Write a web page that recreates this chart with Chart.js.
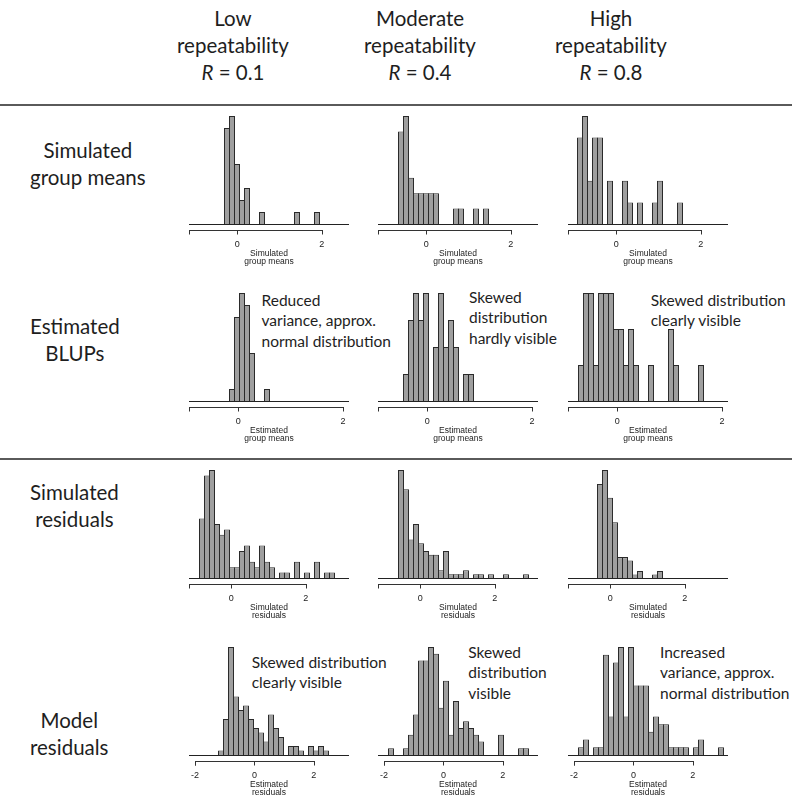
<!DOCTYPE html>
<html>
<head>
<meta charset="utf-8">
<script src="https://cdn.jsdelivr.net/npm/chart.js@4.4.1/dist/chart.umd.min.js"></script>
<style>
  html, body { margin: 0; padding: 0; background: #fff; overflow: hidden; }
  #page { position: relative; width: 792px; height: 800px; }
  .txt { position: absolute; font-family: Lato, "Noto Sans", sans-serif; color: #1e1e1e; white-space: nowrap; }
  .head { font-size: 20.5px; line-height: 27px; text-align: center; width: 200px; }
  .rowlab { font-size: 20.5px; line-height: 27px; text-align: center; display: inline-block; }
  .note { font-size: 15.5px; line-height: 20.5px; }
  .rule { position: absolute; left: 0; width: 792px; height: 2px; background: #5a5a5a; }
  canvas { position: absolute; }
</style>
</head>
<body>
<div id="page"></div>
<script>
// Column and row labels
const levels = ["Low", "Moderate", "High"];
const repeatability = [0.1, 0.4, 0.8];
const rowLabels = [["Simulated", "group means"], ["Estimated", "BLUPs"], ["Simulated", "residuals"], ["Model", "residuals"]];
const axisTitles = [["Simulated", "group means"], ["Estimated", "group means"], ["Simulated", "residuals"], ["Estimated", "residuals"]];

// x axis ranges and ticks per row
const rowXMin = [-1.143, -0.942, -1.135, -2.203];
const rowXMax = [2.643, 2.115, 3.162, 3.186];
const rowTicks = [[0, 2], [0, 2], [0, 2], [-2, 0, 2]];
const axisFrom = [-1.143, -0.942, -1.135, -2];

// histogram bins: first break per panel and bin width per row
const binStart = [[-0.303, -0.658, -0.918], [-0.168, -0.455, -0.741], [-0.853, -0.5845, -0.343], [-1.209, -1.849, -1.849]];
const binWidth = [0.11831, 0.09553, 0.13428, 0.16841];

// counts per bin
const simMeansLow = [8, 9, 5, 2, 3, 0, 0, 1, 0, 0, 0, 0, 0, 0, 1, 0, 0, 0, 1];
const simMeansMod = [6, 7, 3, 2, 2, 2, 2, 2, 0, 0, 0, 1, 1, 0, 0, 1, 0, 1];
const simMeansHigh = [4, 5, 2, 4, 4, 0, 2, 0, 0, 2, 1, 0, 1, 0, 0, 1, 2, 0, 0, 0, 1];
const blupLow = [1, 7, 9, 8, 4, 0, 0, 1];
const blupMod = [1, 3, 4, 3, 4, 0, 2, 4, 2, 3, 2, 0, 1, 1];
const blupHigh = [1, 3, 3, 1, 3, 3, 3, 2, 2, 1, 2, 1, 0, 0, 1, 0, 0, 0, 2, 1, 0, 0, 0, 0, 1];
const simResLow = [11, 19, 20, 10, 8, 9, 2, 2, 5, 6, 3, 2, 6, 3, 2, 0, 1, 1, 0, 3, 0, 1, 0, 3, 0, 1, 1];
const simResMod = [28, 23, 10, 14, 9, 7, 6, 6, 2, 7, 1, 1, 1, 2, 0, 1, 1, 0, 1, 0, 0, 1, 0, 0, 0, 1];
const simResHigh = [27, 31, 23, 16, 6, 6, 5, 1, 2, 0, 0, 1, 2];
const modelResLow = [1, 8, 24, 13, 10, 11, 8, 6, 5, 3, 9, 6, 4, 0, 2, 2, 1, 0, 2, 1, 2, 1];
const modelResMod = [1, 0, 0, 1, 3, 6, 14, 14, 16, 15, 7, 11, 3, 8, 4, 5, 4, 3, 2, 0, 0, 0, 3, 0, 0, 0, 1, 1];
const modelResHigh = [1, 2, 0, 1, 1, 13, 5, 12, 14, 5, 14, 9, 9, 9, 3, 5, 4, 4, 1, 1, 1, 1, 0, 1, 2, 0, 0, 0, 1];

const counts = [
  [simMeansLow, simMeansMod, simMeansHigh],
  [blupLow, blupMod, blupHigh],
  [simResLow, simResMod, simResHigh],
  [modelResLow, modelResMod, modelResHigh]
];

// annotations [row, col, lines]
const notes = [
  [1, 0, ["Reduced", "variance, approx.", "normal distribution"]],
  [1, 1, ["Skewed", "distribution", "hardly visible"]],
  [1, 2, ["Skewed distribution", "clearly visible"]],
  [3, 0, ["Skewed distribution", "clearly visible"]],
  [3, 1, ["Skewed", "distribution", "visible"]],
  [3, 2, ["Increased", "variance, approx.", "normal distribution"]]
];

// Layout
const page = document.getElementById("page");
const colLeft = [189, 378, 568];
const plotW = 160, plotH = 108, axisH = 42;
const rowTop = [116, 293, 470, 647];
const headX = [233, 420, 611];
const headY = [18, 45, 72];
const rowLabY = [150, 326, 492, 720];
const notePos = [[261.5, 300], [469, 297], [650.7, 300], [251.7, 662], [468.3, 652], [660, 652]];

function addText(cls, html, left, centerY, lh) {
  const d = document.createElement("div");
  d.className = "txt " + cls;
  d.innerHTML = html;
  d.style.left = left + "px";
  d.style.top = (centerY - lh / 2) + "px";
  page.appendChild(d);
}

// Headers
levels.forEach((lv, c) => {
  const lines = [lv, "repeatability", "<i>R</i> = " + repeatability[c]];
  lines.forEach((t, i) => addText("head", t, headX[c] - 100, headY[i], 27));
});

// Row labels (centred block)
rowLabels.forEach((lines, r) => {
  addText("rowlab", lines.join("<br>"), 30, rowLabY[r], 27);
});

// Rules
[104, 458].forEach(y => {
  const d = document.createElement("div");
  d.className = "rule";
  d.style.top = y + "px";
  page.appendChild(d);
});

// Notes
notes.forEach((n, i) => {
  n[2].forEach((t, j) => addText("note", t, notePos[i][0], notePos[i][1] + j * 20.5, 20.5));
});

// R style axis drawn below the baseline
const rAxis = {
  id: "rAxis",
  afterDraw(chart) {
    const o = chart.options.plugins.rAxis;
    const xs = chart.scales.x, ctx = chart.ctx;
    const y = Math.round(chart.chartArea.bottom) + 6.5;
    ctx.save();
    ctx.strokeStyle = "#333";
    ctx.lineWidth = 1;
    ctx.beginPath();
    ctx.moveTo(Math.round(xs.getPixelForValue(o.from)), y);
    ctx.lineTo(Math.round(xs.getPixelForValue(o.to)) + 1, y);
    [o.from, ...o.ticks].forEach(v => {
      const px = Math.round(xs.getPixelForValue(v)) + 0.5;
      ctx.moveTo(px, y);
      ctx.lineTo(px, y + 4);
    });
    ctx.stroke();
    ctx.restore();
  }
};

// Histograms
counts.forEach((rowCounts, r) => {
  rowCounts.forEach((vals, c) => {
    const cv = document.createElement("canvas");
    cv.width = plotW;
    cv.height = plotH + axisH;
    cv.style.left = colLeft[c] + "px";
    cv.style.top = rowTop[r] + "px";
    page.appendChild(cv);

    const w = binWidth[r];
    const pts = vals.map((v, k) => ({ x: binStart[r][c] + (k + 0.5) * w, y: v }));
    const binPx = w * plotW / (rowXMax[r] - rowXMin[r]);
    const ticks = rowTicks[r];

    new Chart(cv, {
      type: "bar",
      data: {
        datasets: [{
          data: pts,
          backgroundColor: "#9f9f9f",
          borderColor: "#2a2a2a",
          borderWidth: 1,
          barPercentage: (binPx + 1) / binPx,
          categoryPercentage: 1,
          inflateAmount: 0
        }]
      },
      options: {
        responsive: false,
        animation: false,
        devicePixelRatio: 1,
        layout: { padding: 0 },
        plugins: {
          legend: { display: false },
          tooltip: { enabled: false },
          rAxis: { from: axisFrom[r], to: ticks[ticks.length - 1], ticks: ticks }
        },
        scales: {
          x: {
            type: "linear",
            min: rowXMin[r],
            max: rowXMax[r],
            bounds: "data",
            offset: false,
            grid: { display: false, drawTicks: false },
            border: { display: true, color: "#222", width: 1 },
            ticks: { font: { family: "Liberation Sans", size: 9 }, color: "#222", padding: 15, autoSkip: false, maxRotation: 0 },
            afterBuildTicks: s => { s.ticks = ticks.map(v => ({ value: v })); },
            afterFit: s => { s.height = axisH; s.paddingLeft = 0; s.paddingRight = 0; },
            title: {
              display: true,
              text: axisTitles[r],
              color: "#222",
              font: { family: "Liberation Sans", size: 8.5, lineHeight: 1 },
              padding: { top: 0, bottom: 0 }
            }
          },
          y: { display: false, min: 0, max: Math.max(...vals) }
        }
      },
      plugins: [rAxis]
    });
  });
});
</script>
</body>
</html>
